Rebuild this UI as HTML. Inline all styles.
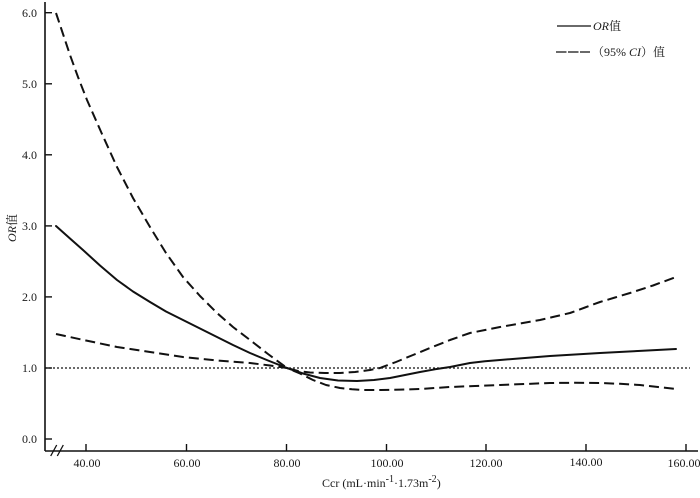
<!DOCTYPE html>
<html><head><meta charset="utf-8"><style>
html,body{margin:0;padding:0;background:#fff;}
svg{display:block;}
text{font-family:"Liberation Serif","Noto Serif CJK SC","Noto Sans CJK SC",serif;font-size:12px;fill:#1a1a1a;}
</style></head><body>
<svg width="700" height="498" viewBox="0 0 700 498" xmlns="http://www.w3.org/2000/svg">
<rect width="700" height="498" fill="#fff"/>
<!-- axes -->
<line x1="45" y1="2" x2="45" y2="451" stroke="#111" stroke-width="1.6"/>
<line x1="45" y1="451" x2="698" y2="451" stroke="#111" stroke-width="1.6"/>
<!-- y ticks -->
<g stroke="#111" stroke-width="1.4">
<line x1="45" y1="12.7" x2="52" y2="12.7"/>
<line x1="45" y1="83.8" x2="52" y2="83.8"/>
<line x1="45" y1="154.8" x2="52" y2="154.8"/>
<line x1="45" y1="225.9" x2="52" y2="225.9"/>
<line x1="45" y1="296.9" x2="52" y2="296.9"/>
<line x1="45" y1="368" x2="52" y2="368"/>
<line x1="45" y1="439" x2="52" y2="439"/>
</g>
<g text-anchor="end">
<text x="37" y="17">6.0</text>
<text x="37" y="88">5.0</text>
<text x="37" y="159">4.0</text>
<text x="37" y="230">3.0</text>
<text x="37" y="301">2.0</text>
<text x="37" y="372">1.0</text>
<text x="37" y="443">0.0</text>
</g>
<!-- x ticks -->
<g stroke="#111" stroke-width="1.4">
<line x1="86" y1="451" x2="86" y2="444"/>
<line x1="186.5" y1="451" x2="186.5" y2="444"/>
<line x1="286.5" y1="451" x2="286.5" y2="444"/>
<line x1="386.5" y1="451" x2="386.5" y2="444"/>
<line x1="486" y1="451" x2="486" y2="444"/>
<line x1="586" y1="451" x2="586" y2="444"/>
<line x1="686" y1="451" x2="686" y2="444"/>
</g>
<g text-anchor="middle">
<text x="87" y="467">40.00</text>
<text x="187" y="467">60.00</text>
<text x="287" y="467">80.00</text>
<text x="387" y="467">100.00</text>
<text x="486" y="467">120.00</text>
<text x="586" y="466">140.00</text>
<text x="684" y="467">160.00</text>
</g>
<!-- axis break -->
<g stroke="#111" stroke-width="1.3">
<line x1="50.7" y1="456" x2="56.7" y2="445"/>
<line x1="57.3" y1="456" x2="63.3" y2="445"/>
</g>
<!-- axis titles -->
<text x="322" y="487">Ccr (mL·min<tspan font-size="10" dy="-5">-1</tspan><tspan dy="5">·1.73m</tspan><tspan font-size="10" dy="-5">-2</tspan><tspan dy="5">)</tspan></text>
<text transform="translate(16,228) rotate(-90)" text-anchor="middle"><tspan font-style="italic">OR</tspan>值</text>
<!-- reference dotted line -->
<line x1="45" y1="368" x2="690" y2="368" stroke="#111" stroke-width="1.3" stroke-dasharray="2 2"/>
<!-- solid OR -->
<polyline fill="none" stroke="#111" stroke-width="2" stroke-linejoin="round" stroke-linecap="round"
points="56,226 70,238.5 83,250 100,265.5 117,280 133,291.5 150,302 166,311.5 183,320 200,328.5 217,337 233,345 250,353 268,360.5 287,368 303,373.5 320,378 338,380.5 357,381 374,380 390,378 405,375 420,372 435,369.3 450,367 470,363 485,361.3 500,360 525,358 550,356 575,354.5 600,353 638,351 676,349"/>
<!-- upper CI -->
<polyline fill="none" stroke="#111" stroke-width="2" stroke-linejoin="round" stroke-dasharray="10 5"
points="56,13 63,34 70,55 78,77 87,100 102,134 117,167 133,198 150,227 166,253 183,277 200,296 217,313 233,327 250,340 268,354 287,368 298,371 310,372.5 325,373 340,373 355,372 370,370 380,368 396,362 413,355 430,348 450,340 470,333 485,330 500,327 520,323.5 540,320 555,316.5 570,313 585,307.5 600,302 615,297.5 630,293 653,285.5 676,277"/>
<!-- lower CI -->
<polyline fill="none" stroke="#111" stroke-width="2" stroke-linejoin="round" stroke-dasharray="10 5"
points="56,334 86,340.5 117,347 150,352 183,357 217,360.5 250,363 270,365.5 287,368 300,373.5 313,380 326,385 340,388 352,389.3 363,390 380,390 400,389.6 420,389 435,388 450,387 475,386 500,385 525,384 550,383 575,382.8 600,383 620,383.8 640,385 658,387 676,389"/>
<!-- legend -->
<line x1="557" y1="26" x2="591" y2="26" stroke="#111" stroke-width="1.2"/>
<text x="593" y="30"><tspan font-style="italic">OR</tspan>值</text>
<line x1="556" y1="52" x2="590" y2="52" stroke="#111" stroke-width="1.2" stroke-dasharray="10.5 1.5"/>
<text x="592" y="56">（95% <tspan font-style="italic">CI</tspan>）值</text>
</svg>
</body></html>
